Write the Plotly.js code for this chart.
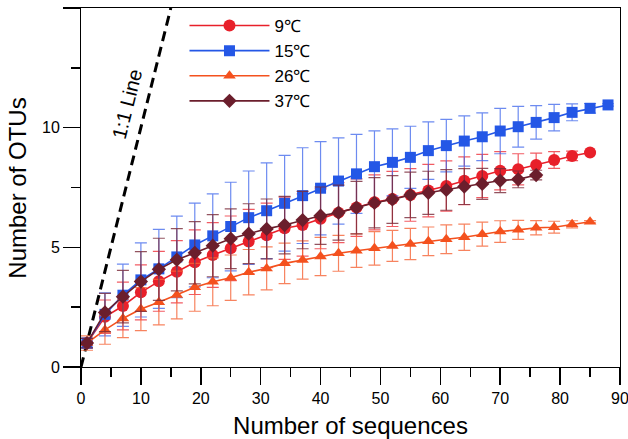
<!DOCTYPE html>
<html>
<head>
<meta charset="utf-8">
<script src="https://cdn.plot.ly/plotly-3.0.1.min.js"></script>
<style>
html,body{margin:0;padding:0;background:#fff;overflow:hidden;}
#wrap{position:relative;width:628px;height:439px;}
#chart{position:absolute;left:0;top:0;width:628px;height:439px;}
.lbl{position:absolute;font-family:'Liberation Sans',Arial,sans-serif;color:#000;white-space:nowrap;pointer-events:none;line-height:1;}
#frame{position:absolute;box-sizing:border-box;border:1.2px solid #000;pointer-events:none;}
</style>
</head>
<body>
<div id="wrap">
<div id="chart"></div>
<div id="frame"></div>
<div id="xt" class="lbl"></div>
<div id="yt" class="lbl"></div>
<div id="ll" class="lbl"></div>
</div>
<script>
// Rarefaction curves: number of sequences vs number of OTUs (mean ± error)
const seriesNames = ["9\u2103", "15\u2103", "26\u2103", "37\u2103"];

const x9  = [1,4,7,10,13,16,19,22,25,28,31,34,37,40,43,46,49,52,55,58,61,64,67,70,73,76,79,82,85];
const y9  = [1.0,2.1,2.55,3.12,3.58,3.98,4.38,4.68,4.96,5.24,5.5,5.8,5.93,6.19,6.45,6.66,6.88,7.02,7.19,7.37,7.56,7.78,7.98,8.2,8.26,8.44,8.65,8.82,8.96];
const e9  = [0.2,0.7,1.0,1.15,1.25,1.3,1.35,1.35,1.35,1.35,1.35,1.3,1.3,1.25,1.25,1.2,1.15,1.15,1.1,1.1,1.05,1.0,0.9,0.8,0.65,0.5,0.35,0.2,0.05];

const x15 = [1,4,7,10,13,16,19,22,25,28,31,34,37,40,43,46,49,52,55,58,61,64,67,70,73,76,79,82,85,88];
const y15 = [1.0,2.2,3.0,3.64,4.1,4.6,5.1,5.48,5.87,6.24,6.53,6.84,7.16,7.47,7.77,8.07,8.37,8.55,8.76,9.04,9.25,9.44,9.62,9.86,10.04,10.22,10.42,10.64,10.81,10.95];
const e15 = [0.2,0.9,1.3,1.55,1.65,1.7,1.75,1.75,1.85,1.95,2.0,2.0,2.0,1.95,1.8,1.65,1.5,1.4,1.3,1.2,1.1,1.05,1.0,0.95,0.85,0.7,0.55,0.35,0.2,0.05];

const x26 = [1,4,7,10,13,16,19,22,25,28,31,34,37,40,43,46,49,52,55,58,61,64,67,70,73,76,79,82,85];
const y26 = [1.0,1.55,2.03,2.42,2.71,3.01,3.33,3.56,3.73,3.96,4.12,4.33,4.47,4.62,4.75,4.86,4.96,5.06,5.14,5.25,5.34,5.42,5.55,5.66,5.73,5.82,5.84,5.96,6.07];
const e26 = [0.3,0.6,0.8,0.9,0.95,1.0,1.0,1.0,0.95,0.95,0.9,0.85,0.8,0.8,0.75,0.7,0.7,0.65,0.65,0.6,0.6,0.55,0.5,0.45,0.4,0.3,0.25,0.15,0.05];

const x37 = [1,4,7,10,13,16,19,22,25,28,31,34,37,40,43,46,49,52,55,58,61,64,67,70,73,76];
const y37 = [1.0,2.28,2.94,3.57,4.08,4.48,4.77,5.07,5.36,5.57,5.77,5.93,6.14,6.32,6.45,6.66,6.86,7.0,7.19,7.28,7.4,7.54,7.65,7.79,7.84,8.02];
const e37 = [0.2,0.8,1.1,1.25,1.3,1.3,1.3,1.3,1.25,1.25,1.25,1.2,1.2,1.2,1.15,1.1,1.05,1.0,0.95,0.9,0.85,0.75,0.65,0.5,0.35,0.2];

// 1:1 reference line
const lineX = [0, 15];
const lineY = [0, 15];
const lineLabel = "1:1 Line";
const lineLabelPos = [7.6, 11.0];

const xTitle = "Number of sequences";
const yTitle = "Number of OTUs";

const xRange = [0, 90];
const yRange = [0, 15];
const margin = {l: 81, r: 8, t: 8, b: 72};
const W = 628, H = 439;

function series(name, xs, ys, es, color, errColor, symbol, size) {
  return {
    type: "scatter", mode: "lines+markers", name: name, x: xs, y: ys,
    line: {color: color, width: 1.6},
    marker: {color: color, symbol: symbol, size: size},
    error_y: {type: "data", array: es, visible: true, color: errColor, thickness: 1.2, width: 6}
  };
}

const traces = [
  {type: "scatter", mode: "lines", x: lineX, y: lineY, showlegend: false,
   line: {color: "#000", width: 3, dash: "10px,6px"}},
  series(seriesNames[0], x9,  y9,  e9,  "#e8202a", "rgba(238,50,60,0.8)", "circle", 12),
  series(seriesNames[1], x15, y15, e15, "#2457e6", "rgba(60,100,235,0.75)", "square", 11),
  series(seriesNames[2], x26, y26, e26, "#f4511e", "rgba(245,100,55,0.8)", "triangle-up", 11),
  series(seriesNames[3], x37, y37, e37, "#6b1e2c", "rgba(120,40,55,0.8)", "diamond", 11)
];

const font = "'Liberation Sans', Arial, sans-serif";

const layout = {
  width: W, height: H,
  margin: margin,
  font: {family: font, color: "#000", size: 16},
  legend: {x: 0.192, y: 1.0, xanchor: "left", yanchor: "top", bgcolor: "rgba(0,0,0,0)",
           font: {size: 17}, itemwidth: 80},
  xaxis: {range: xRange, dtick: 10, showgrid: false, zeroline: false, showline: true, linecolor: "#000",
    ticks: "outside", ticklen: 17, tickwidth: 1.5, tickcolor: "#000", ticklabeloverflow: "allow",
    minor: {dtick: 5, ticks: "outside", ticklen: 9, tickwidth: 1.5, tickcolor: "#000"}},
  yaxis: {range: yRange, dtick: 5, showgrid: false, zeroline: false, showline: true, linecolor: "#000",
    ticks: "outside", ticklen: 17, tickwidth: 1.5, tickcolor: "#000",
    minor: {dtick: 2.5, ticks: "outside", ticklen: 9, tickwidth: 1.5, tickcolor: "#000"}}
};

// plot-area geometry for the frame and the text labels
const plotW = W - margin.l - margin.r, plotH = H - margin.t - margin.b;
function px(x) { return margin.l + (x - xRange[0]) / (xRange[1] - xRange[0]) * plotW; }
function py(y) { return margin.t + (1 - (y - yRange[0]) / (yRange[1] - yRange[0])) * plotH; }

const frame = document.getElementById("frame");
frame.style.left = (margin.l - 0.6) + "px"; frame.style.top = (margin.t - 0.6) + "px";
frame.style.width = (plotW + 1.2) + "px"; frame.style.height = (plotH + 1.2) + "px";

const xt = document.getElementById("xt");
xt.textContent = xTitle; xt.style.fontSize = "24px";
xt.style.left = (margin.l + plotW / 2) + "px"; xt.style.top = "426px";
xt.style.transform = "translate(-50%,-50%)";

const yt = document.getElementById("yt");
yt.textContent = yTitle; yt.style.fontSize = "24px";
yt.style.left = "18px"; yt.style.top = (margin.t + plotH / 2) + "px";
yt.style.transform = "translate(-50%,-50%) rotate(-90deg)";

const ll = document.getElementById("ll");
ll.textContent = lineLabel; ll.style.fontSize = "20px";
ll.style.left = px(lineLabelPos[0]) + "px"; ll.style.top = py(lineLabelPos[1]) + "px";
ll.style.transform = "translate(-50%,-50%) rotate(-76deg)";

Plotly.newPlot("chart", traces, layout, {staticPlot: true});
</script>
</body>
</html>
